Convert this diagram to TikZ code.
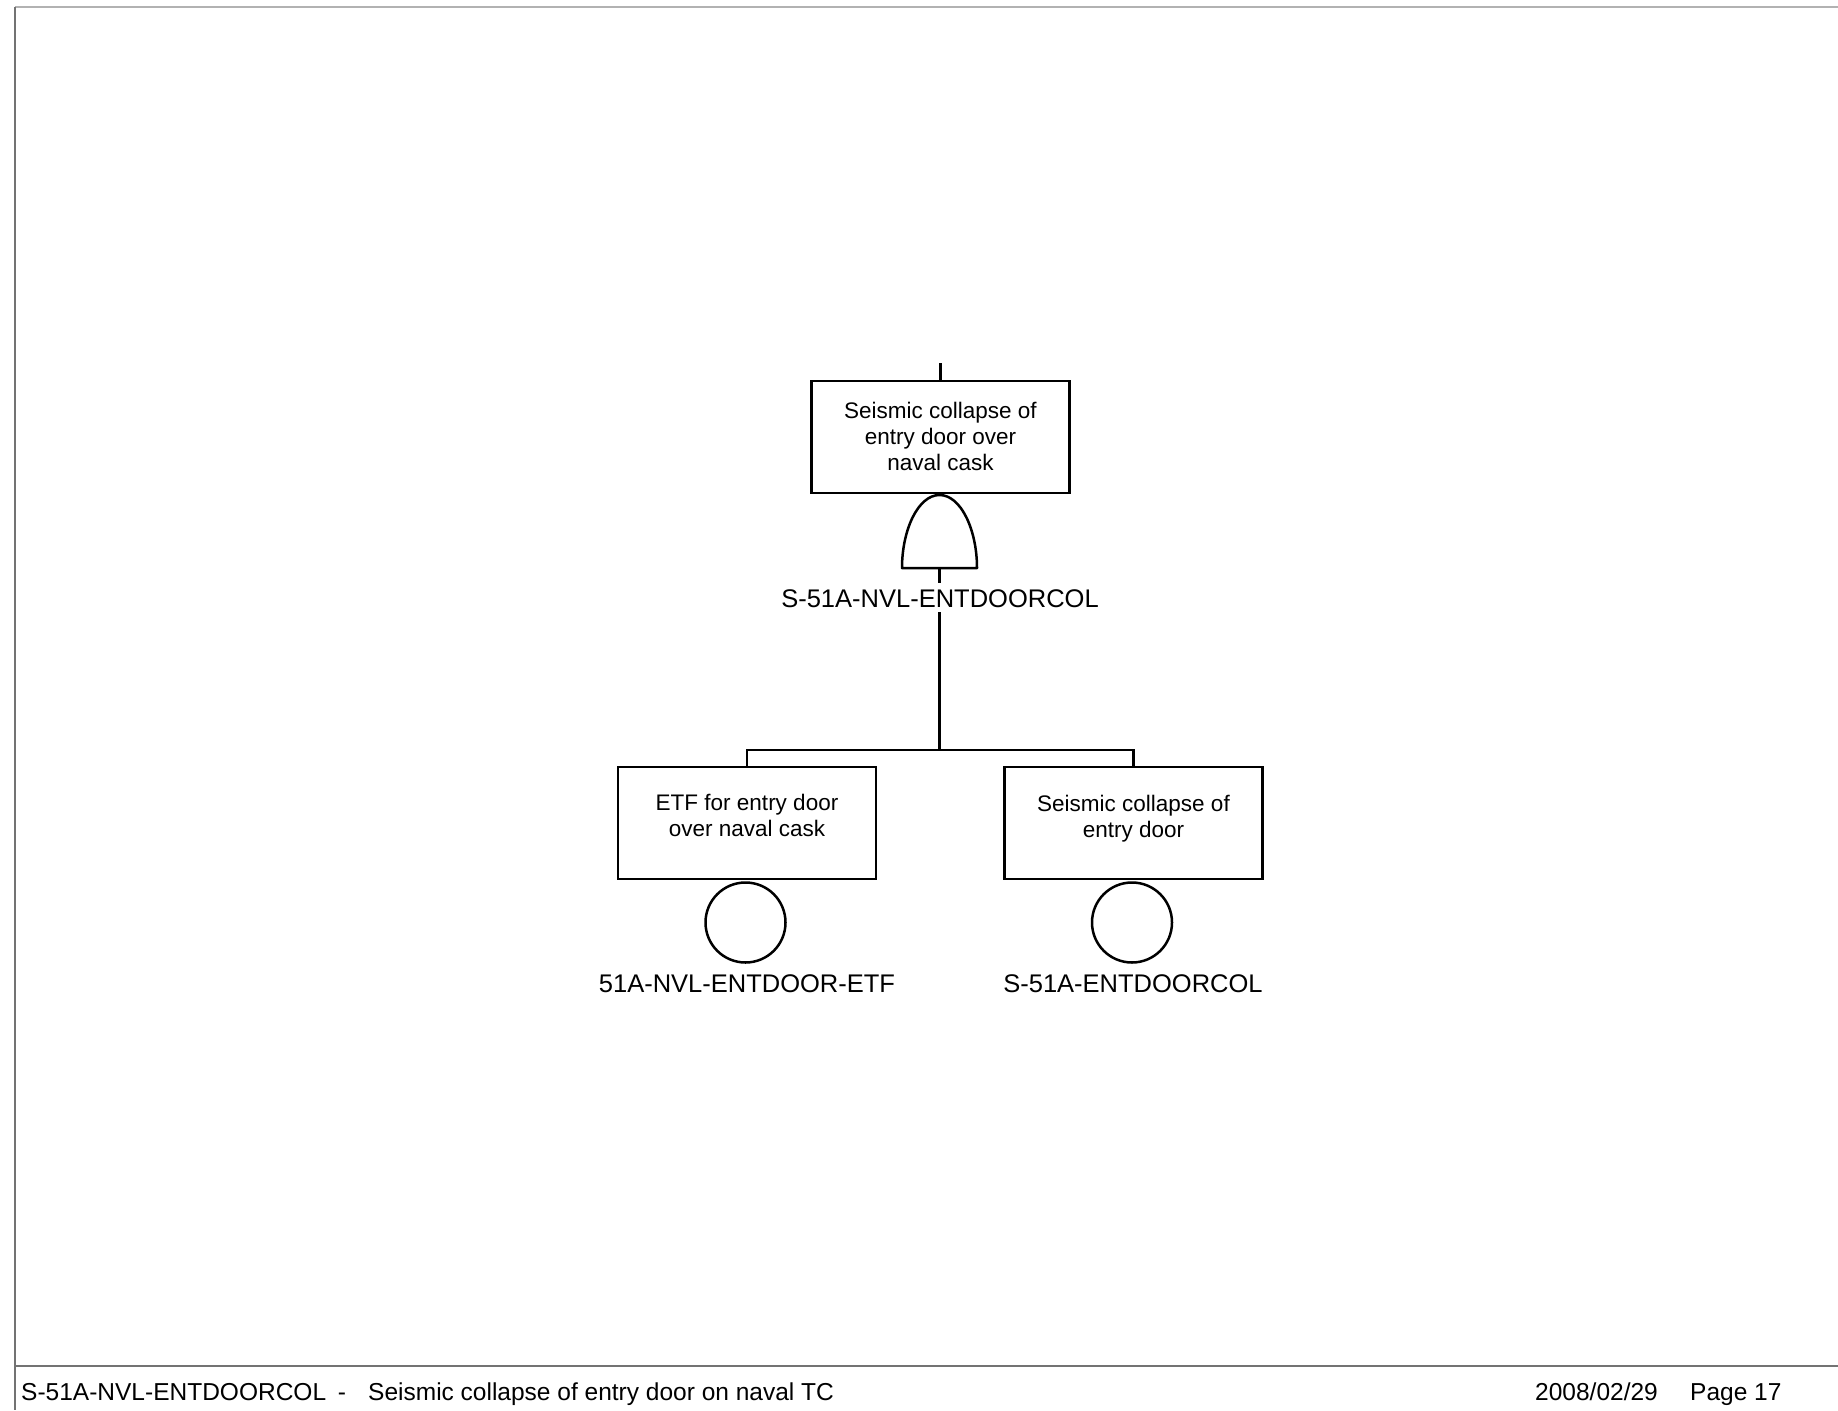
\documentclass[tikz,border=0pt]{standalone}
\usepackage{fontspec}
\setmainfont{Liberation Sans}
\begin{document}
\begin{tikzpicture}[x=1pt,y=-1pt,
  ln/.style={line width=2.5pt,black},
  box/.style={draw=black,line width=2.5pt,rectangle,minimum width=258pt,minimum height=112pt,inner sep=0pt},
  boxtxt/.style={align=center,inner sep=0pt,font=\fontsize{22.5}{26}\selectfont},
  lbl/.style={inner sep=1pt,font=\fontsize{25.5}{30}\selectfont,anchor=base},
  evt/.style={draw=black,line width=2.5pt,circle,minimum size=80pt,inner sep=0pt},
  foot/.style={inner sep=0pt,font=\fontsize{24.5}{28}\selectfont,anchor=base west},
  frame/.style={line width=1.8pt,gray}
]
\useasboundingbox (0,0) rectangle (1838,1410);
% page frame
\coordinate (ftl) at (15,7);
\coordinate (ftr) at (1838,7);
\coordinate (fbl) at (15,1410);
\coordinate (fml) at (15,1366);
\coordinate (fmr) at (1838,1366);
\draw[frame,gray!60] (ftl) -- (ftr);
\draw[frame,gray!90!black] (ftl) -- (fbl);
\draw[frame,gray!90!black] (fml) -- (fmr);

% top event
\coordinate (topin) at (940.5,363);
\node[box] (top) at (940.5,437) {};
\node[boxtxt] (toptxt) at (940.5,436) {Seismic collapse of\\entry door over\\naval cask};
\draw[ln] (topin) -- (top.north);

% AND gate
\coordinate (gtop) at (939.5,495);
\coordinate (gbot) at (939.5,568);
\draw[ln,line join=round] (902,568) .. controls (902,530) and (918,495) .. (gtop)
   .. controls (961,495) and (977,530) .. (977,568) -- cycle;

% gate label and connector to bar
\node[lbl,inner sep=0pt,text height=24pt,text depth=5pt] (glbl) at (940,607) {S-51A-NVL-ENTDOORCOL};
\coordinate (barc) at (939.5,750);
\coordinate (barl) at (747,750);
\coordinate (barr) at (1133.5,750);
\draw[ln] (gbot) -- (gbot |- glbl.north);
\draw[ln] (gbot |- glbl.south) -- (barc);

% bottom boxes
\node[box] (lb) at (747,823) {};
\node[boxtxt] (lbtxt) at (747,815) {ETF for entry door\\over naval cask};
\node[box] (rb) at (1133.5,823) {};
\node[boxtxt] (rbtxt) at (1133.5,818.5) {Seismic collapse of\\entry door};
\draw[ln] (lb.north) -- (barl) -- (barr) -- (rb.north);

% basic events
\node[evt] (e1) at (745.5,922.5) {};
\node[evt] (e2) at (1132,922.5) {};
\node[lbl] (e1l) at (747,992) {51A-NVL-ENTDOOR-ETF};
\node[lbl] (e2l) at (1133,992) {S-51A-ENTDOORCOL};

% footer
\node[foot] (f1) at (21,1400) {S-51A-NVL-ENTDOORCOL};
\node[foot,anchor=base] (f2) at (342,1400) {-};
\node[foot] (f3) at (368,1400) {Seismic collapse of entry door on naval TC};
\node[foot] (f4) at (1535,1400) {2008/02/29};
\node[foot] (f5) at (1690,1400) {Page 17};
\end{tikzpicture}
\end{document}
